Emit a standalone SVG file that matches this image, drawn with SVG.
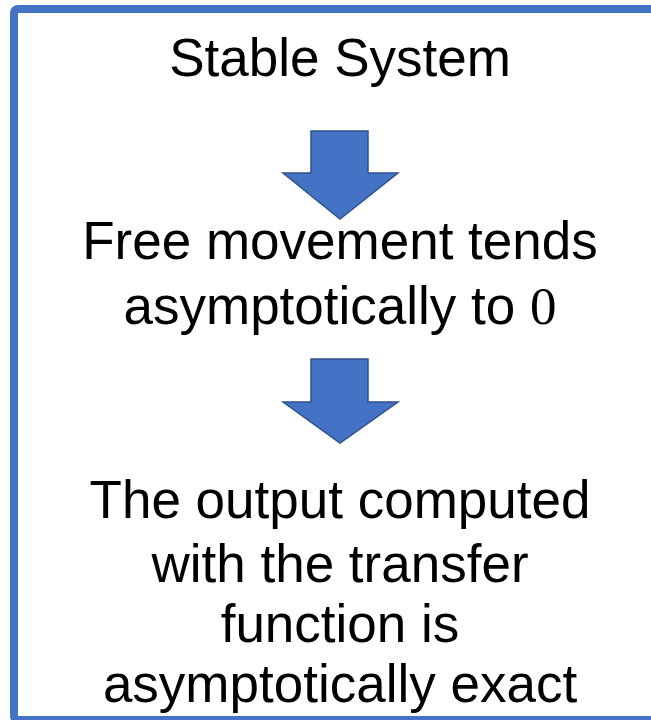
<svg xmlns="http://www.w3.org/2000/svg" width="651" height="720" viewBox="0 0 651 720">
<style>
.t{font-family:"Liberation Sans",Arial,sans-serif;font-size:53px;fill:#000;text-anchor:middle}
.z{font-family:"Liberation Serif","Times New Roman",serif}
.arr{fill:#4472C4;stroke:#2F528F;stroke-width:1.5;stroke-linejoin:miter}
</style>
<rect x="0" y="0" width="651" height="720" fill="#fff"/>
<rect id="frame" x="14" y="9" width="700" height="711" rx="4" fill="none" stroke="#4472C4" stroke-width="8"/>
<g id="n1"><text class="t" x="340" y="76">Stable System</text></g>
<g id="n2"><text class="t" x="340" y="259">Free movement tends</text><text class="t" x="340" y="324">asymptotically to <tspan class="z">0</tspan></text></g>
<g id="n3"><text class="t" x="340" y="518">The output computed</text><text class="t" x="340" y="582">with the transfer</text><text class="t" x="340" y="642">function is</text><text class="t" x="340" y="702">asymptotically exact</text></g>
<g id="connectors">
<path class="arr" d="M311,131 H368 V173 H398 L340,219 L283,173 H311 Z"/>
<path class="arr" d="M311,359 H368 V402 H398 L340,443 L283,402 H311 Z"/>
</g>
</svg>
